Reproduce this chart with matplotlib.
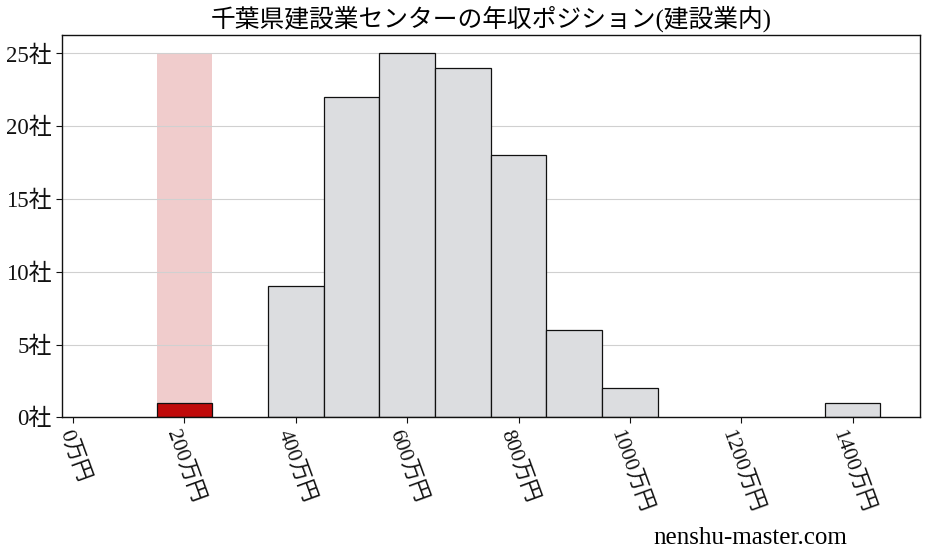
import numpy as np
import matplotlib
matplotlib.use('Agg')
import matplotlib.pyplot as plt

plt.rcParams['font.family'] = ['Liberation Serif', 'Noto Sans CJK JP', 'DejaVu Sans']

# ヒストグラムの階級(左端, 万円)と社数
bin_left = [150, 250, 350, 450, 550, 650, 750, 850, 950, 1050, 1150, 1250, 1350]
counts = [1, 0, 9, 22, 25, 24, 18, 6, 2, 0, 0, 0, 1]
bin_width = 100
own_bin = 150  # この会社の位置
x_ticks = [0, 200, 400, 600, 800, 1000, 1200, 1400]
y_ticks = [0, 5, 10, 15, 20, 25]
title = '千葉県建設業センターの年収ポジション(建設業内)'

fig = plt.figure(figsize=(9.28, 5.57), dpi=100)
ax = fig.add_axes([62 / 928, 1 - 417.3 / 557, (920 - 62) / 928, (417.3 - 35.3) / 557])

ax.grid(axis='y', color='#d0d0d0', linewidth=0.8, zorder=0)

# 自社の階級を縦に塗る
ax.bar(own_bin, max(counts), width=bin_width, align='edge',
       color='#f0cccc', zorder=1)

colors = ['#c00a0a' if b == own_bin else '#dcdde0' for b in bin_left]
for b, c, col in zip(bin_left, counts, colors):
    if c > 0:
        ax.bar(b, c, width=bin_width, align='edge', color=col,
               edgecolor='#111111', linewidth=0.9, zorder=2)

ax.set_xlim(-20, 1521)
ax.set_ylim(0, 26.25)
ax.set_xticks(x_ticks)
ax.set_xticklabels([f'{v}万円' for v in x_ticks], rotation=-70, fontsize=15.5)
ax.set_yticks(y_ticks)
ax.set_yticklabels([f'{v}社' for v in y_ticks], fontsize=16.5)
ax.tick_params(axis='both', colors='#111111', length=4)

for s in ax.spines.values():
    s.set_color('#111111')
    s.set_linewidth(1.0)

ax.set_title(title, fontsize=17.8, pad=6)
fig.text(0.913, 0.015, 'nenshu-master.com', ha='right', va='bottom', fontsize=18)

fig.savefig('out.png', dpi=100)
